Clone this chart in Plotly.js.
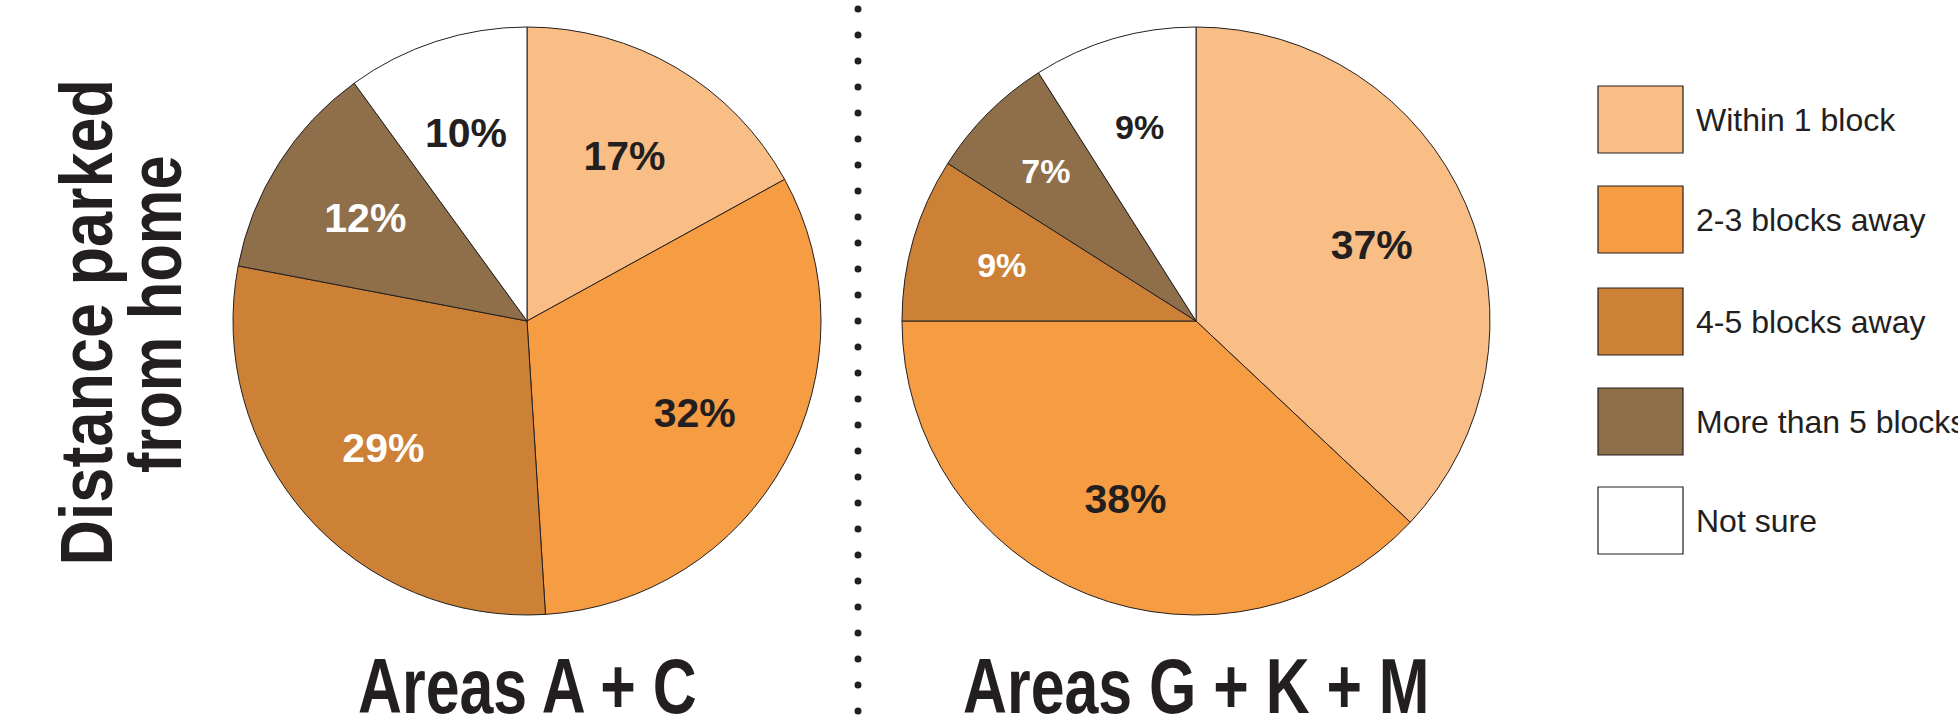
<!DOCTYPE html>
<html>
<head>
<meta charset="utf-8">
<script src="https://cdn.plot.ly/plotly-3.0.1.min.js"></script>
<style>
  html, body { margin: 0; padding: 0; background: #ffffff; }
  #chart { width: 1958px; height: 724px; }
</style>
</head>
<body>
<div id="chart"></div>
<script>
// ---- data ----
const categories = ['Within 1 block', '2-3 blocks away', '4-5 blocks away', 'More than 5 blocks', 'Not sure'];
const valuesAC = [17, 32, 29, 12, 10];
const valuesGKM = [37, 38, 9, 7, 9];
const groupTitles = ['Areas A + C', 'Areas G + K + M'];
const sideTitleLines = ['Distance parked', 'from home'];

// ---- styles ----
const sliceColors = ['#F9BE85', '#F69C43', '#CD8136', '#8F6F4A', '#FFFFFF'];
const labelColors = ['#231F20', '#231F20', '#FFFFFF', '#FFFFFF', '#231F20'];
const ink = '#231F20';
const boldFont = 'Liberation Sans, Arial, sans-serif';
const clear = 'rgba(0,0,0,0)';

const W = 1958, H = 724;
const px = v => v / W;
const py = v => 1 - v / H;
// pie placement: centre (pixels) and radius
const pieR = 294, pieCY = 321;
const centresX = [527, 1196];
const dom = (cx, r) => ({ x: [px(cx - r), px(cx + r)], y: [py(pieCY + r), py(pieCY - r)] });

// visible pie (no text)
function pieTrace(values, cx) {
  return {
    type: 'pie',
    labels: categories,
    values: values,
    sort: false,
    direction: 'clockwise',
    rotation: 0,
    domain: dom(cx, pieR),
    marker: { colors: sliceColors, line: { color: ink, width: 1 } },
    textinfo: 'none',
    hoverinfo: 'skip',
    showlegend: false
  };
}
// transparent ring on top carrying the percentage labels, so they sit ~2/3 of the way out
function labelTrace(values, cx, sizes) {
  return {
    type: 'pie',
    labels: categories,
    values: values,
    sort: false,
    direction: 'clockwise',
    rotation: 0,
    hole: 0.48,
    domain: dom(cx, pieR * 0.88),
    marker: { colors: categories.map(() => clear), line: { width: 0 } },
    texttemplate: '%{value}%',
    textposition: 'inside',
    insidetextorientation: 'horizontal',
    textfont: { family: boldFont, weight: 'bold', color: labelColors, size: sizes },
    hoverinfo: 'skip',
    showlegend: false
  };
}

const data = [
  pieTrace(valuesAC, centresX[0]),
  pieTrace(valuesGKM, centresX[1]),
  labelTrace(valuesAC, centresX[0], [41, 41, 41, 41, 41]),
  labelTrace(valuesGKM, centresX[1], [41, 41, 34, 34, 34])
];

const shapes = [];
const annotations = [];

// dotted divider
for (let y = 9; y <= 720; y += 26) {
  shapes.push({
    type: 'circle', xref: 'paper', yref: 'paper',
    x0: px(854.5), x1: px(861.5), y0: py(y + 3.5), y1: py(y - 3.5),
    fillcolor: ink, line: { width: 0 }
  });
}

// manual legend with large swatches
const legendTops = [86, 186, 288, 388, 487];
categories.forEach((c, i) => {
  const top = legendTops[i];
  shapes.push({
    type: 'rect', xref: 'paper', yref: 'paper',
    x0: px(1598), x1: px(1683), y0: py(top + 67), y1: py(top),
    fillcolor: sliceColors[i], line: { color: ink, width: 1.2 }
  });
  annotations.push({
    xref: 'paper', yref: 'paper', x: px(1694), y: py(top + 34),
    xanchor: 'left', yanchor: 'middle', showarrow: false,
    text: c, font: { family: 'Liberation Sans, Arial, sans-serif', size: 32, color: ink }
  });
});

// group titles (condensed afterwards)
const narrow = {};
annotations.push({
  xref: 'paper', yref: 'paper', x: px(centresX[0]), y: py(686),
  xanchor: 'center', yanchor: 'middle', showarrow: false,
  text: groupTitles[0], font: { family: boldFont, weight: 'bold', size: 77, color: ink }
});
narrow[annotations.length - 1] = 0.79;
annotations.push({
  xref: 'paper', yref: 'paper', x: px(centresX[1]), y: py(686),
  xanchor: 'center', yanchor: 'middle', showarrow: false,
  text: groupTitles[1], font: { family: boldFont, weight: 'bold', size: 77, color: ink }
});
narrow[annotations.length - 1] = 0.79;

// rotated side title (two lines, tight spacing)
annotations.push({
  xref: 'paper', yref: 'paper', x: px(86), y: py(323),
  xanchor: 'center', yanchor: 'middle', showarrow: false, textangle: -90,
  text: sideTitleLines[0], font: { family: boldFont, weight: 'bold', size: 75, color: ink }
});
narrow[annotations.length - 1] = 0.84;
annotations.push({
  xref: 'paper', yref: 'paper', x: px(155), y: py(314),
  xanchor: 'center', yanchor: 'middle', showarrow: false, textangle: -90,
  text: sideTitleLines[1], font: { family: boldFont, weight: 'bold', size: 75, color: ink }
});
narrow[annotations.length - 1] = 0.82;

const layout = {
  width: W, height: H,
  margin: { l: 0, r: 0, t: 0, b: 0 },
  paper_bgcolor: '#FFFFFF',
  plot_bgcolor: '#FFFFFF',
  showlegend: false,
  shapes: shapes,
  annotations: annotations
};

Plotly.newPlot('chart', data, layout, { displayModeBar: false, staticPlot: true }).then(gd => {
  // emulate the condensed heavy face of the original titles
  gd.querySelectorAll('g.annotation').forEach(g => {
    const idx = g.getAttribute('data-index');
    const f = narrow[idx];
    if (!f) return;
    const t = g.querySelector('text.annotation-text');
    if (!t) return;
    t.style.transformBox = 'fill-box';
    t.style.transformOrigin = 'center';
    t.style.transform = 'scaleX(' + f + ')';
  });
});
</script>
</body>
</html>
